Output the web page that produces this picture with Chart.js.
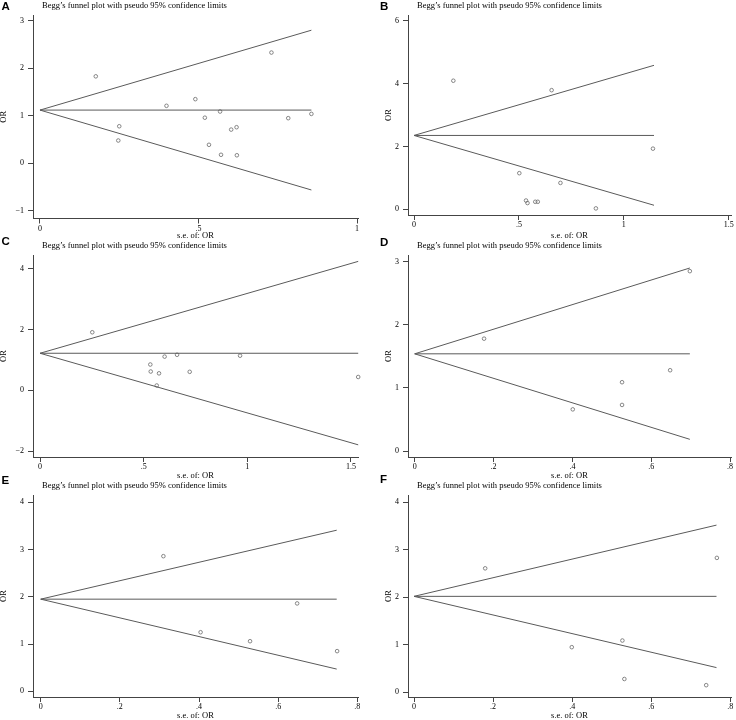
<!DOCTYPE html>
<html>
<head>
<meta charset="utf-8">
<script src="https://cdn.jsdelivr.net/npm/chart.js@4.4.1/dist/chart.umd.min.js"></script>
<style>
  html, body { margin: 0; padding: 0; background: #fff; }
  #figure { position: relative; width: 736px; height: 720px; overflow: hidden; }
  .panel { position: absolute; width: 368px; height: 240px; }
  .panel canvas { display: block; }
  .letter {
    position: absolute;
    font: bold 11.5px "Liberation Sans", Arial, sans-serif;
    line-height: 1;
    color: #000;
  }
</style>
</head>
<body>
<div id="figure"></div>
<script>
// Begg's funnel plots, six panels (A-F). Each panel: study s.e. vs OR,
// plus the pooled line and the pseudo 95% limits.

const TITLE = 'Begg\u2019s funnel plot with pseudo 95% confidence limits';
const X_TITLE = 's.e. of: OR';
const Y_TITLE = 'OR';

// --- Panel A ---
const seA = [0.176, 0.25, 0.247, 0.399, 0.49, 0.52, 0.533, 0.568, 0.571, 0.603, 0.62, 0.621, 0.73, 0.783, 0.856];
const orA = [1.83, 0.78, 0.48, 1.21, 1.35, 0.96, 0.39, 1.09, 0.18, 0.71, 0.76, 0.17, 2.33, 0.95, 1.04];
const seMaxA = 0.856;
const limitsA = [1.12, 2.80, -0.56];           // pooled, upper, lower at seMax
const xTicksA = [0, 0.5, 1];
const xTickLabelsA = ['0', '.5', '1'];
const yTicksA = [-1, 0, 1, 2, 3];
const yTickLabelsA = ['\u22121', '0', '1', '2', '3'];

// --- Panel B ---
const seB = [0.1875, 0.656, 1.139, 0.502, 0.698, 0.534, 0.541, 0.578, 0.590, 0.867];
const orB = [4.09, 3.79, 1.93, 1.15, 0.84, 0.28, 0.20, 0.24, 0.24, 0.03];
const seMaxB = 1.144;
const limitsB = [2.35, 4.58, 0.13];
const xTicksB = [0, 0.5, 1, 1.5];
const xTickLabelsB = ['0', '.5', '1', '1.5'];
const yTicksB = [0, 2, 4, 6];
const yTickLabelsB = ['0', '2', '4', '6'];

// --- Panel C ---
const seC = [0.252, 0.532, 0.534, 0.574, 0.563, 0.601, 0.661, 0.722, 0.965, 1.535];
const orC = [1.91, 0.85, 0.62, 0.56, 0.16, 1.11, 1.17, 0.61, 1.14, 0.44];
const seMaxC = 1.535;
const limitsC = [1.22, 4.24, -1.79];
const xTicksC = [0, 0.5, 1, 1.5];
const xTickLabelsC = ['0', '.5', '1', '1.5'];
const yTicksC = [-2, 0, 2, 4];
const yTickLabelsC = ['\u22122', '0', '2', '4'];

// --- Panel D ---
const seD = [0.176, 0.401, 0.526, 0.526, 0.648, 0.698];
const orD = [1.78, 0.66, 1.09, 0.73, 1.28, 2.85];
const seMaxD = 0.698;
const limitsD = [1.54, 2.90, 0.185];
const xTicksD = [0, 0.2, 0.4, 0.6, 0.8];
const xTickLabelsD = ['0', '.2', '.4', '.6', '.8'];
const yTicksD = [0, 1, 2, 3];
const yTickLabelsD = ['0', '1', '2', '3'];

// --- Panel E ---
const seE = [0.31, 0.404, 0.529, 0.648, 0.749];
const orE = [2.86, 1.25, 1.06, 1.86, 0.85];
const seMaxE = 0.748;
const limitsE = [1.95, 3.41, 0.47];
const xTicksE = [0, 0.2, 0.4, 0.6, 0.8];
const xTickLabelsE = ['0', '.2', '.4', '.6', '.8'];
const yTicksE = [0, 1, 2, 3, 4];
const yTickLabelsE = ['0', '1', '2', '3', '4'];

// --- Panel F ---
const seF = [0.18, 0.399, 0.527, 0.532, 0.739, 0.766];
const orF = [2.61, 0.95, 1.09, 0.28, 0.15, 2.83];
const seMaxF = 0.765;
const limitsF = [2.02, 3.52, 0.52];
const xTicksF = [0, 0.2, 0.4, 0.6, 0.8];
const xTickLabelsF = ['0', '.2', '.4', '.6', '.8'];
const yTicksF = [0, 1, 2, 3, 4];
const yTickLabelsF = ['0', '1', '2', '3', '4'];

// Layout of each panel on the page (pixels), kept apart from the data.
const PANELS = [
  { id: 'A', se: seA, or: orA, seMax: seMaxA, limits: limitsA,
    xTicks: xTicksA, xLabels: xTickLabelsA, yTicks: yTicksA, yLabels: yTickLabelsA,
    pos: [0, 0], area: { l: 33, r: 358, t: 15, b: 218.5 },
    xRange: [-0.022, 1.003], yRange: [-1.16, 3.12],
    titleAt: [42, 7.5], letterAt: [1.5, 11], yTitlePad: 0 },
  { id: 'B', se: seB, or: orB, seMax: seMaxB, limits: limitsB,
    xTicks: xTicksB, xLabels: xTickLabelsB, yTicks: yTicksB, yLabels: yTickLabelsB,
    pos: [368, 0], area: { l: 40, r: 363, t: 15, b: 215 },
    xRange: [-0.0286, 1.511], yRange: [-0.18, 6.18],
    titleAt: [49, 8], letterAt: [380, 10.5], yTitlePad: 16.5 },
  { id: 'C', se: seC, or: orC, seMax: seMaxC, limits: limitsC,
    xTicks: xTicksC, xLabels: xTickLabelsC, yTicks: yTicksC, yLabels: yTickLabelsC,
    pos: [0, 240], area: { l: 33, r: 358, t: 15, b: 217 },
    xRange: [-0.034, 1.534], yRange: [-2.19, 4.45],
    titleAt: [42, 8], letterAt: [1.5, 246], yTitlePad: 0 },
  { id: 'D', se: seD, or: orD, seMax: seMaxD, limits: limitsD,
    xTicks: xTicksD, xLabels: xTickLabelsD, yTicks: yTicksD, yLabels: yTickLabelsD,
    pos: [368, 240], area: { l: 40, r: 363, t: 15, b: 217 },
    xRange: [-0.017, 0.8024], yRange: [-0.095, 3.106],
    titleAt: [49, 8], letterAt: [380, 246.5], yTitlePad: 16.5 },
  { id: 'E', se: seE, or: orE, seMax: seMaxE, limits: limitsE,
    xTicks: xTicksE, xLabels: xTickLabelsE, yTicks: yTicksE, yLabels: yTickLabelsE,
    pos: [0, 480], area: { l: 33, r: 358, t: 15, b: 217 },
    xRange: [-0.0195, 0.8018], yRange: [-0.121, 4.155],
    titleAt: [42, 8], letterAt: [1.5, 484.5], yTitlePad: 0 },
  { id: 'F', se: seF, or: orF, seMax: seMaxF, limits: limitsF,
    xTicks: xTicksF, xLabels: xTickLabelsF, yTicks: yTicksF, yLabels: yTickLabelsF,
    pos: [368, 480], area: { l: 40, r: 363, t: 15, b: 217 },
    xRange: [-0.0152, 0.8017], yRange: [-0.099, 4.154],
    titleAt: [49, 8], letterAt: [380, 483.5], yTitlePad: 16.5 },
];

const W = 368;
const H = 240;
const AXIS_COLOR = '#444';
const LINE_COLOR = '#5a5a5a';
const POINT_COLOR = '#6a6a6a';
const SERIF = '"Liberation Serif", "Times New Roman", Times, serif';
const tickFont = { family: SERIF, size: 8, lineHeight: 1 };
const axisTitleFont = { family: SERIF, size: 8.5, lineHeight: 1 };

// Panel title drawn at a fixed offset from the plot's left edge.
const panelTitle = {
  id: 'panelTitle',
  afterDraw(chart, args, opts) {
    const ctx = chart.ctx;
    ctx.save();
    ctx.fillStyle = '#000';
    ctx.textBaseline = 'alphabetic';
    ctx.textAlign = 'left';
    ctx.font = '8.5px ' + SERIF;
    ctx.fillText(opts.text, opts.x, opts.y);
    ctx.restore();
  },
};

function lineDataset(seMax, y0, y1) {
  return {
    data: [{ x: 0, y: y0 }, { x: seMax, y: y1 }],
    showLine: true,
    borderColor: LINE_COLOR,
    borderWidth: 1,
    pointRadius: 0,
    tension: 0,
    clip: false,
  };
}

function createPanel(p) {
  const figure = document.getElementById('figure');
  const wrap = document.createElement('div');
  wrap.className = 'panel';
  wrap.style.left = p.pos[0] + 'px';
  wrap.style.top = p.pos[1] + 'px';
  const canvas = document.createElement('canvas');
  canvas.width = W;
  canvas.height = H;
  wrap.appendChild(canvas);
  figure.appendChild(wrap);

  const letter = document.createElement('div');
  letter.className = 'letter';
  letter.textContent = p.id;
  letter.style.left = p.letterAt[0] + 'px';
  letter.style.top = (p.letterAt[1] - 9.7) + 'px';
  figure.appendChild(letter);

  const [pooled, upper, lower] = p.limits;
  const points = p.se.map((s, i) => ({ x: s, y: p.or[i] }));

  return new Chart(canvas, {
    type: 'scatter',
    data: {
      datasets: [
        lineDataset(p.seMax, pooled, upper),
        lineDataset(p.seMax, pooled, pooled),
        lineDataset(p.seMax, pooled, lower),
        {
          data: points,
          pointStyle: 'circle',
          pointRadius: 1.8,
          pointBorderWidth: 0.8,
          pointBorderColor: POINT_COLOR,
          pointBackgroundColor: 'rgba(0,0,0,0)',
          clip: false,
        },
      ],
    },
    options: {
      responsive: false,
      animation: false,
      devicePixelRatio: 1,
      layout: { padding: { left: 0, top: p.area.t, right: W - p.area.r, bottom: 0 } },
      plugins: {
        legend: { display: false },
        tooltip: { enabled: false },
        title: { display: false },
        panelTitle: { text: TITLE, x: p.titleAt[0], y: p.titleAt[1] },
      },
      scales: {
        x: {
          type: 'linear',
          min: p.xRange[0],
          max: p.xRange[1],
          afterBuildTicks: (s) => { s.ticks = p.xTicks.map((v) => ({ value: v })); },
          afterFit: (s) => { s.height = H - p.area.b; s.paddingLeft = 0; s.paddingRight = 0; },
          ticks: {
            callback: (v, i) => p.xLabels[i],
            font: tickFont, color: '#000', padding: 1,
            maxRotation: 0, minRotation: 0, autoSkip: false,
          },
          grid: { drawOnChartArea: false, drawTicks: true, tickLength: 5, color: AXIS_COLOR, lineWidth: 1 },
          border: { display: true, color: AXIS_COLOR, width: 1 },
          title: { display: true, text: X_TITLE, font: axisTitleFont, color: '#000', padding: 0 },
        },
        y: {
          type: 'linear',
          min: p.yRange[0],
          max: p.yRange[1],
          afterBuildTicks: (s) => { s.ticks = p.yTicks.map((v) => ({ value: v })); },
          afterFit: (s) => { s.width = p.area.l; s.paddingTop = 0; s.paddingBottom = 0; },
          ticks: {
            callback: (v, i) => p.yLabels[i],
            font: tickFont, color: '#000', padding: 4, autoSkip: false,
          },
          grid: { drawOnChartArea: false, drawTicks: true, tickLength: 5, color: AXIS_COLOR, lineWidth: 1 },
          border: { display: true, color: AXIS_COLOR, width: 1 },
          title: { display: true, text: Y_TITLE, font: axisTitleFont, color: '#000',
                   padding: { top: p.yTitlePad, bottom: 0 } },
        },
      },
    },
    plugins: [panelTitle],
  });
}

PANELS.forEach(createPanel);
</script>
</body>
</html>
